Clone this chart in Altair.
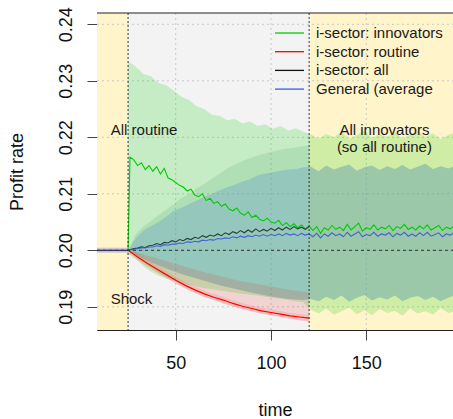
import altair as alt
import pandas as pd

FONT = "Liberation Sans, Arial, sans-serif"
W, H = 356, 317
X_DOM = [8.7, 195.5]
Y_DOM = [0.1859, 0.2420]

x_ticks = [50, 100, 150]
y_ticks = [0.19, 0.20, 0.21, 0.22, 0.23, 0.24]
shock_t = 25
end_t = 120
base_rate = 0.200

# ---- band time grid (step 4) ----
t_band = list(range(25, 201, 4))  # 25..197
green_up = [0.2335, 0.2325, 0.2312, 0.2308, 0.2296, 0.2292, 0.2283, 0.2272, 0.2266, 0.2255,
            0.2250, 0.2240, 0.2238, 0.2230, 0.2233, 0.2225, 0.2228, 0.2220, 0.2223, 0.2215,
            0.2220, 0.2212, 0.2216, 0.2210, 0.2205, 0.2198, 0.2206, 0.2200, 0.2210, 0.2197,
            0.2204, 0.2212, 0.2199, 0.2206, 0.2201, 0.2209, 0.2198, 0.2205, 0.2211, 0.2200,
            0.2207, 0.2197, 0.2204, 0.2209]
green_lo = [0.1995, 0.1985, 0.1972, 0.1962, 0.1955, 0.1950, 0.1946, 0.1942, 0.1939, 0.1936,
            0.1933, 0.1931, 0.1929, 0.1927, 0.1925, 0.1923, 0.1922, 0.1920, 0.1918, 0.1916,
            0.1914, 0.1912, 0.1910, 0.1908, 0.1895, 0.1888, 0.1897, 0.1886, 0.1892, 0.1899,
            0.1887, 0.1894, 0.1885, 0.1896, 0.1889, 0.1893, 0.1884, 0.1897, 0.1888, 0.1892,
            0.1886, 0.1898, 0.1889, 0.1893]
gen_up = [0.2000, 0.2022, 0.2035, 0.2043, 0.2050, 0.2060, 0.2070, 0.2076, 0.2082, 0.2088,
          0.2095, 0.2100, 0.2106, 0.2112, 0.2116, 0.2122, 0.2126, 0.2133, 0.2136, 0.2138,
          0.2141, 0.2143, 0.2144, 0.2147, 0.2148, 0.2140, 0.2150, 0.2143, 0.2148, 0.2152,
          0.2141, 0.2147, 0.2150, 0.2142, 0.2149, 0.2144, 0.2151, 0.2143, 0.2148, 0.2153,
          0.2144, 0.2149, 0.2145, 0.2150]
gen_lo = [0.2000, 0.1992, 0.1985, 0.1979, 0.1973, 0.1968, 0.1963, 0.1958, 0.1954, 0.1950,
          0.1946, 0.1942, 0.1938, 0.1935, 0.1932, 0.1929, 0.1926, 0.1923, 0.1920, 0.1918,
          0.1916, 0.1914, 0.1913, 0.1912, 0.1914, 0.1910, 0.1918, 0.1912, 0.1920, 0.1909,
          0.1916, 0.1921, 0.1911, 0.1917, 0.1913, 0.1920, 0.1910, 0.1916, 0.1919, 0.1912,
          0.1918, 0.1910, 0.1916, 0.1921]
# i-sector "all" band top (25..117, then 120)
t_all = [25, 29, 33, 37, 41, 45, 49, 53, 57, 61, 65, 69, 73, 77, 81, 85, 89, 93, 97, 101,
         105, 109, 113, 117, 120]
all_up = [0.2000, 0.2028, 0.2042, 0.2052, 0.2062, 0.2072, 0.2082, 0.2092, 0.2100, 0.2110,
          0.2118, 0.2127, 0.2135, 0.2145, 0.2152, 0.2158, 0.2163, 0.2168, 0.2172, 0.2175,
          0.2178, 0.2180, 0.2182, 0.2184, 0.2185]
all_lo = [0.2000, 0.2022, 0.2035, 0.2043, 0.2050, 0.2060, 0.2070, 0.2076, 0.2082, 0.2088,
          0.2095, 0.2100, 0.2106, 0.2112, 0.2116, 0.2122, 0.2126, 0.2133, 0.2136, 0.2138,
          0.2141, 0.2143, 0.2144, 0.2147, 0.2148]

# ---- routine (step 5) ----
t_red = list(range(25, 121, 5))
red_up = [0.2000, 0.1996, 0.1991, 0.1986, 0.1981, 0.1976, 0.1971, 0.1966, 0.1961, 0.1957,
          0.1953, 0.1949, 0.1945, 0.1942, 0.1939, 0.1936, 0.1933, 0.1930, 0.1928, 0.1925]
red_lo = [0.2000, 0.1985, 0.1973, 0.1962, 0.1952, 0.1942, 0.1933, 0.1925, 0.1918, 0.1912,
          0.1906, 0.1901, 0.1896, 0.1892, 0.1888, 0.1885, 0.1882, 0.1879, 0.1876, 0.1874]
red_line = [0.2000, 0.1988, 0.1977, 0.1967, 0.1957, 0.1947, 0.1938, 0.1930, 0.1923, 0.1917,
            0.1912, 0.1906, 0.1901, 0.1897, 0.1893, 0.1890, 0.1887, 0.1884, 0.1882, 0.1880]

# ---- lines (step 2) ----
t_line = [25] + list(range(26, 199, 2))
green_line = [0.2000,
              0.2165, 0.2160, 0.2150, 0.2155, 0.2143, 0.2150, 0.2140, 0.2148, 0.2135, 0.2145,
              0.2128, 0.2125, 0.2120, 0.2115, 0.2112, 0.2105, 0.2108, 0.2098, 0.2095, 0.2100,
              0.2088, 0.2092, 0.2083, 0.2086, 0.2078, 0.2082, 0.2073, 0.2070, 0.2075, 0.2066,
              0.2062, 0.2068, 0.2058, 0.2062, 0.2055, 0.2052, 0.2057, 0.2050, 0.2048, 0.2053,
              0.2044, 0.2049, 0.2042, 0.2047, 0.2040, 0.2045, 0.2038, 0.2043, 0.2035, 0.2042,
              0.2030, 0.2040, 0.2036, 0.2044, 0.2037, 0.2041, 0.2035, 0.2046, 0.2036, 0.2042,
              0.2048, 0.2034, 0.2040, 0.2037, 0.2045, 0.2036, 0.2041, 0.2038, 0.2044, 0.2035,
              0.2042, 0.2039, 0.2046, 0.2037, 0.2041, 0.2036, 0.2043, 0.2038, 0.2045, 0.2036,
              0.2040, 0.2044, 0.2035, 0.2041, 0.2038, 0.2043, 0.2037]
blue_line = [0.2000,
             0.2001, 0.2002, 0.2003, 0.2004, 0.2004, 0.2006, 0.2006, 0.2008, 0.2007, 0.2010,
             0.2009, 0.2011, 0.2011, 0.2013, 0.2012, 0.2015, 0.2014, 0.2016, 0.2015, 0.2018,
             0.2017, 0.2019, 0.2018, 0.2021, 0.2020, 0.2022, 0.2021, 0.2024, 0.2022, 0.2025,
             0.2023, 0.2026, 0.2024, 0.2027, 0.2025, 0.2028, 0.2025, 0.2028, 0.2026, 0.2029,
             0.2026, 0.2030, 0.2027, 0.2029, 0.2026, 0.2030, 0.2027, 0.2029, 0.2024, 0.2030,
             0.2022, 0.2029, 0.2025, 0.2031, 0.2026, 0.2029, 0.2024, 0.2032, 0.2025, 0.2029,
             0.2033, 0.2024, 0.2028, 0.2026, 0.2032, 0.2025, 0.2029, 0.2027, 0.2031, 0.2024,
             0.2030, 0.2027, 0.2032, 0.2025, 0.2029, 0.2025, 0.2031, 0.2026, 0.2032, 0.2025,
             0.2028, 0.2031, 0.2024, 0.2029, 0.2027, 0.2031, 0.2026]
black_line = [0.2000,
              0.2001, 0.2003, 0.2004, 0.2006, 0.2005, 0.2008, 0.2009, 0.2012, 0.2010, 0.2014,
              0.2013, 0.2017, 0.2015, 0.2019, 0.2017, 0.2021, 0.2019, 0.2023, 0.2021, 0.2026,
              0.2023, 0.2027, 0.2025, 0.2029, 0.2026, 0.2031, 0.2028, 0.2033, 0.2030, 0.2035,
              0.2031, 0.2036, 0.2032, 0.2038, 0.2033, 0.2037, 0.2034, 0.2039, 0.2035, 0.2040,
              0.2036, 0.2041, 0.2037, 0.2042, 0.2038, 0.2041, 0.2037, 0.2042]
t_pre = [1, 25]
pre_line = [0.2000, 0.2000]

legend_labels = ["i-sector: innovators", "i-sector: routine", "i-sector: all", "General (average"]
legend_colors = ["#00D000", "#FF0000", "#111111", "#3A5BE8"]

notes = ["All routine", "Shock", "All innovators", "(so all routine)"]
note_t = [33.4, 26.8, 159.5, 159.5]
note_y = [0.2213, 0.19139, 0.2213, 0.2183]

region_start = [X_DOM[0], shock_t, end_t]
region_end = [shock_t, end_t, X_DOM[1]]
region_kind = ["pre", "mid", "post"]

# ---------------------------------------------------------------
xs = alt.Scale(domain=X_DOM, nice=False, zero=False)
ys = alt.Scale(domain=Y_DOM, nice=False, zero=False)

ax_x = alt.Axis(values=x_ticks, title="time", grid=False, tickSize=10, tickColor="#444",
                domainColor="#222", labelFontSize=18, labelFont=FONT, labelColor="#111",
                labelPadding=14, labelFlush=False, labelOverlap=False,
                titleFontSize=18, titleFont=FONT, titleFontWeight="normal", titleColor="#111",
                titleY=85, titleBaseline="alphabetic")
ax_y = alt.Axis(values=y_ticks, format=".2f", title="Profit rate", grid=False, tickSize=10,
                tickColor="#444", domainColor="#222", labelFontSize=18, labelFont=FONT,
                labelColor="#111", labelAngle=270, labelAlign="center",
                labelBaseline="alphabetic", labelPadding=16, labelFlush=False,
                labelOverlap=False, titleFontSize=18, titleFont=FONT,
                titleFontWeight="normal", titleColor="#111", titleAngle=270, titleX=-80,
                titleY=H / 2, titleAlign="center", titleBaseline="middle")

X = lambda f: alt.X(f, scale=xs, axis=ax_x)
Y = lambda f: alt.Y(f, scale=ys, axis=ax_y)

bg_df = pd.DataFrame({"t0": region_start, "t1": region_end, "kind": region_kind})
bg = alt.Chart(bg_df).mark_rect().encode(
    x=X("t0:Q"), x2="t1:Q", y=alt.value(0), y2=alt.value(H),
    color=alt.Color("kind:N", legend=None,
                    scale=alt.Scale(domain=["pre", "mid", "post"],
                                    range=["#FFF4CA", "#F3F3F3", "#FFF4CA"])))

gx = alt.Chart(pd.DataFrame({"v": x_ticks})).mark_rule(
    color="#C8C8C8", strokeDash=[2, 3], strokeWidth=1).encode(
    x=X("v:Q"), y=alt.value(0), y2=alt.value(H))
gy = alt.Chart(pd.DataFrame({"v": y_ticks})).mark_rule(
    color="#C8C8C8", strokeDash=[2, 3], strokeWidth=1).encode(
    y=Y("v:Q"), x=alt.value(0), x2=alt.value(W))


def band(t, lo, hi, color, op):
    df = pd.DataFrame({"t": t, "lo": lo, "hi": hi})
    return alt.Chart(df).mark_area(color=color, opacity=op, clip=True).encode(
        x=X("t:Q"), y=Y("lo:Q"), y2="hi:Q")


def line(t, v, color, width=1.2, op=1.0):
    df = pd.DataFrame({"t": t, "v": v})
    return alt.Chart(df).mark_line(color=color, strokeWidth=width, opacity=op, clip=True).encode(
        x=X("t:Q"), y=Y("v:Q"))


b_green = band(t_band, green_lo, green_up, "#00CD00", 0.19)
b_all = band(t_all, all_lo, all_up, "#208040", 0.12)
b_gen = band(t_band, gen_lo, gen_up, "#4D91B1", 0.40)
b_red = band(t_red, red_lo, red_up, "#E83020", 0.16)

halo_red = line(t_red, red_line, "#FF3030", 6, 0.13)
halo_pre = line(t_pre, pre_line, "#7070C8", 5, 0.35)
l_green = line(t_line, green_line, "#00CC00", 1.1)
l_red = line(t_red, red_line, "#FF0000", 1.2)
l_black = line(t_line[:len(black_line)], black_line, "#152a22", 1.1, 0.85)
l_blue = line(t_line, blue_line, "#3A5BD0", 1.1, 0.9)
l_pre = line(t_pre, pre_line, "#2E2E6A", 1.4)

vlines = alt.Chart(pd.DataFrame({"v": [shock_t, end_t]})).mark_rule(
    color="#333333", strokeDash=[2, 2], strokeWidth=1).encode(
    x=X("v:Q"), y=alt.value(0), y2=alt.value(H))
hline = alt.Chart(pd.DataFrame({"v": [base_rate]})).mark_rule(
    color="#333333", strokeDash=[3, 3], strokeWidth=1).encode(
    y=Y("v:Q"), x=alt.value(0), x2=alt.value(W))
top_border = alt.Chart(pd.DataFrame({"v": [0]})).mark_rule(color="#222", strokeWidth=1).encode(
    x=alt.value(0), x2=alt.value(W), y=alt.value(0))

notes_df = pd.DataFrame({"t": note_t, "y": note_y, "txt": notes})
txt = alt.Chart(notes_df).mark_text(font=FONT, fontSize=15, color="#1a1a1a",
                                    align="center", baseline="middle").encode(
    x=X("t:Q"), y=Y("y:Q"), text="txt:N")

legend_layers = []
for i, (lab, col) in enumerate(zip(legend_labels, legend_colors)):
    yy = 20 + 18.7 * i
    legend_layers.append(
        alt.Chart(pd.DataFrame({"v": [0]})).mark_rule(color=col, strokeWidth=1.3).encode(
            x=alt.value(178), x2=alt.value(207), y=alt.value(yy)))
    legend_layers.append(
        alt.Chart(pd.DataFrame({"v": [0]})).mark_text(
            font=FONT, fontSize=15, color="#1a1a1a", align="left", baseline="middle").encode(
            x=alt.value(219), y=alt.value(yy), text=alt.value(lab)))

chart = alt.layer(
    bg, gx, gy, b_green, b_all, b_gen, b_red, halo_red, halo_pre,
    l_green, l_red, l_black, l_blue, l_pre, vlines, hline, top_border, txt,
    *legend_layers
).properties(
    width=W, height=H,
    autosize=alt.AutoSizeParams(type="none"),
    padding={"left": 97, "top": 13, "right": 0, "bottom": 89},
).configure_view(stroke=None)

chart.save("out.html", embed_options={"renderer": "svg", "actions": False})
